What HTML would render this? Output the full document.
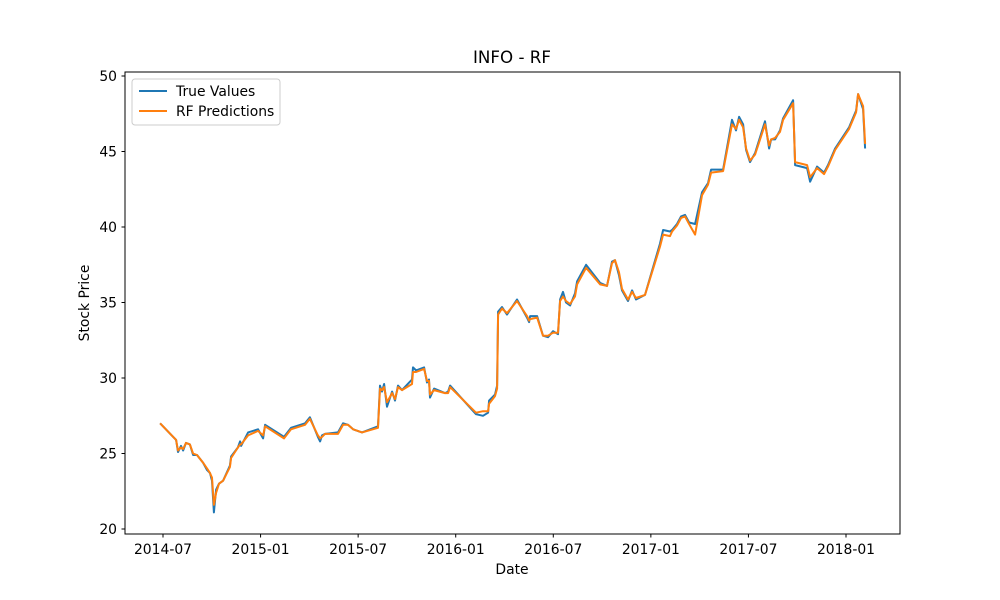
<!DOCTYPE html>
<html><head><meta charset="utf-8"><style>
html,body{margin:0;padding:0;background:#fff;}
svg{display:block;font-family:"DejaVu Sans","Liberation Sans",sans-serif;}
</style></head><body>
<svg id="chart" width="1000" height="600" viewBox="0 0 1000 600">
<rect x="0" y="0" width="1000" height="600" fill="#fff"/>
<text x="512" y="63" font-size="16.7" text-anchor="middle" fill="#000">INFO - RF</text>
<g id="plot"></g>
<rect x="125" y="72" width="775" height="462" fill="none" stroke="#000" stroke-width="1"/>
<text x="512" y="574" font-size="13.9" text-anchor="middle">Date</text>
<text x="89" y="303" font-size="13.9" text-anchor="middle" transform="rotate(-90 89 303)">Stock Price</text>
<g>
<rect x="132" y="79" width="148" height="46" rx="3" fill="#fff" fill-opacity="0.8" stroke="#ccc"/>
<line x1="139" y1="91" x2="167" y2="91" stroke="#1f77b4" stroke-width="2"/>
<text x="176" y="96" font-size="13.9">True Values</text>
<line x1="139" y1="111" x2="167" y2="111" stroke="#ff7f0e" stroke-width="2"/>
<text x="176" y="116" font-size="13.9">RF Predictions</text>
</g>
</svg>
<script>
const dates = [2014.485,2014.567,2014.577,2014.592,2014.603,2014.618,2014.638,2014.654,2014.674,2014.705,2014.726,2014.741,2014.751,2014.761,2014.772,2014.787,2014.808,2014.843,2014.849,2014.884,2014.895,2014.900,2014.936,2014.987,2015.013,2015.023,2015.120,2015.156,2015.228,2015.253,2015.294,2015.305,2015.315,2015.330,2015.397,2015.423,2015.448,2015.474,2015.520,2015.602,2015.612,2015.622,2015.633,2015.648,2015.674,2015.689,2015.704,2015.725,2015.776,2015.781,2015.797,2015.838,2015.853,2015.863,2015.868,2015.889,2015.945,2015.961,2015.971,2016.104,2016.140,2016.166,2016.171,2016.2015,2016.212,2016.217,2016.237,2016.263,2016.314,2016.3655,2016.376,2016.381,2016.417,2016.4475,2016.473,2016.499,2016.524,2016.535,2016.55,2016.565,2016.586,2016.6115,2016.622,2016.668,2016.740,2016.7755,2016.801,2016.8165,2016.837,2016.852,2016.883,2016.904,2016.924,2016.970,2017.047,2017.0625,2017.098,2017.109,2017.134,2017.155,2017.175,2017.196,2017.2265,2017.262,2017.293,2017.3085,2017.37,2017.416,2017.4365,2017.452,2017.4725,2017.488,2017.508,2017.534,2017.585,2017.606,2017.616,2017.6365,2017.662,2017.6775,2017.729,2017.739,2017.8005,2017.816,2017.852,2017.888,2017.908,2017.944,2018.016,2018.052,2018.062,2018.0875,2018.098];
const trueValues = [27.0,25.9,25.1,25.5,25.2,25.7,25.6,24.9,24.9,24.4,23.9,23.7,23.2,21.1,22.6,23.0,23.2,24.2,24.8,25.4,25.8,25.5,26.4,26.6,26.0,26.9,26.1,26.7,27.0,27.4,26.1,25.8,26.2,26.3,26.4,27.0,26.9,26.6,26.4,26.8,29.5,29.1,29.6,28.1,29.1,28.5,29.5,29.2,29.9,30.7,30.5,30.7,29.7,29.9,28.7,29.3,29.0,29.1,29.5,27.6,27.5,27.7,28.5,28.9,29.5,34.4,34.7,34.2,35.2,34.0,33.7,34.1,34.1,32.8,32.7,33.1,32.9,35.2,35.7,35.0,34.8,35.6,36.4,37.5,36.3,36.1,37.7,37.8,36.8,35.8,35.1,35.8,35.2,35.5,38.9,39.8,39.7,39.8,40.2,40.7,40.8,40.3,40.2,42.3,42.9,43.8,43.8,47.1,46.4,47.3,46.8,45.1,44.3,44.9,47.0,45.2,45.8,45.8,46.4,47.2,48.4,44.1,43.9,43.0,44.0,43.6,44.1,45.2,46.6,47.7,48.8,47.8,45.2];
const rfPredictions = [27.0,25.9,25.2,25.4,25.3,25.7,25.6,25.0,24.9,24.4,24.0,23.7,23.4,21.6,22.4,23.0,23.2,24.1,24.7,25.4,25.6,25.6,26.2,26.5,26.2,26.8,26.0,26.6,26.9,27.3,26.2,26.0,26.1,26.3,26.3,26.9,26.9,26.6,26.4,26.7,29.3,29.2,29.4,28.4,29.0,28.6,29.4,29.2,29.6,30.4,30.4,30.6,29.8,29.8,28.9,29.2,29.0,29.0,29.4,27.7,27.8,27.8,28.3,28.8,29.3,34.2,34.6,34.3,35.1,34.1,33.8,33.9,34.0,32.8,32.8,33.0,33.0,35.1,35.4,35.1,34.9,35.4,36.2,37.3,36.2,36.1,37.6,37.8,37.0,35.9,35.2,35.7,35.3,35.5,38.7,39.5,39.4,39.7,40.1,40.6,40.7,40.2,39.5,42.1,42.8,43.6,43.7,46.8,46.5,47.1,46.6,45.2,44.4,44.8,46.8,45.4,45.8,45.9,46.3,47.1,48.2,44.3,44.1,43.3,43.9,43.5,44.0,45.1,46.5,47.6,48.8,48.0,45.5];
const yTicks = [20,25,30,35,40,45,50];
const xTickLabels = ["2014-07","2015-01","2015-07","2016-01","2016-07","2017-01","2017-07","2018-01"];
const xTickValues = [2014.5,2015.0,2015.5,2016.0,2016.5,2017.0,2017.5,2018.0];

const NS="http://www.w3.org/2000/svg";
const plot=document.getElementById('plot');
function xs(t){return 163+(t-2014.5)*(846-163)/3.5;}
function ys(v){return 529-(v-20)*(529-76)/30;}
function mk(tag,attrs){const e=document.createElementNS(NS,tag);for(const k in attrs)e.setAttribute(k,attrs[k]);plot.appendChild(e);return e;}
yTicks.forEach(v=>{
  const y=ys(v);
  const l=mk('line',{x1:121.5,x2:125,y1:y,y2:y,stroke:'#000'});
  
  
  const t=mk('text',{x:117,y:y+5,'font-size':13.9,'text-anchor':'end'});
  t.textContent=v;
  
  
});
xTickValues.forEach((d,i)=>{
  const x=xs(d);
  const l=mk('line',{x1:x,x2:x,y1:534,y2:537.5,stroke:'#000'});
  
  
  const t=mk('text',{x:x,y:554,'font-size':13.9,'text-anchor':'middle'});
  t.textContent=xTickLabels[i];
  
  
});
function pts(vals){return vals.map((v,i)=>xs(dates[i]).toFixed(1)+','+ys(v).toFixed(1)).join(' ');}
const l1=mk('polyline',{points:pts(trueValues),fill:'none',stroke:'#1f77b4','stroke-width':2,'stroke-linejoin':'round'});


const l2=mk('polyline',{points:pts(rfPredictions),fill:'none',stroke:'#ff7f0e','stroke-width':2,'stroke-linejoin':'round'});


</script>
</body></html>
